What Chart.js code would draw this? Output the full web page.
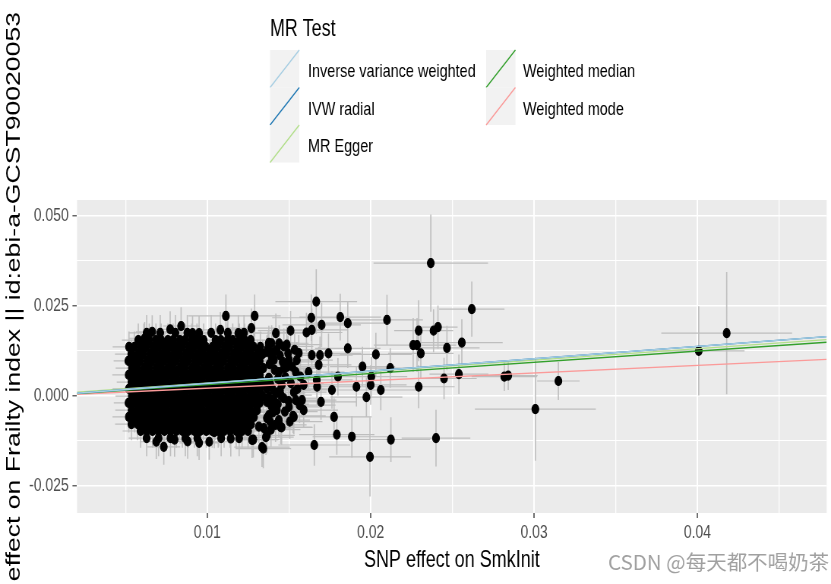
<!DOCTYPE html>
<html>
<head>
<meta charset="utf-8">
<script src="https://cdn.jsdelivr.net/npm/chart.js@4.4.1/dist/chart.umd.min.js"></script>
<style>
  html, body { margin: 0; padding: 0; background: #fff; overflow: hidden; }
  /* the original picture is squeezed sideways, so draw wide and squeeze it back */
  #wrap { width: 1094px; height: 584px; transform: scaleX(0.7596); transform-origin: 0 0; }
</style>
</head>
<body>
<div id="wrap"><canvas id="mrScatter" width="1094" height="584"></canvas></div>
<script>
// ---- axis ticks ----
const xTickValues = [0.005, 0.01, 0.015, 0.02, 0.025, 0.03, 0.035, 0.04, 0.045];
const xTickLabels = ['', '0.01', '', '0.02', '', '0.03', '', '0.04', ''];
const yTickValues = [-0.025, -0.0125, 0, 0.0125, 0.025, 0.0375, 0.05];
const yTickLabels = ['-0.025', '', '0.000', '', '0.025', '', '0.050'];
const xRange = [0.00203, 0.04791];
const yRange = [-0.03262, 0.05446];

// ---- MR method lines (y at the left and right panel edges) ----
const methodNames = ['Inverse variance weighted', 'IVW radial', 'MR Egger', 'Weighted median', 'Weighted mode'];
const methodColors = ['#A6CEE3', '#1F78B4', '#B2DF8A', '#33A02C', '#FB9A99'];
const lineX = [0.00203, 0.04791];
const ivwLineY = [0.0007, 0.01644];
const ivwRadialLineY = [0.0007, 0.01644];
const eggerLineY = [0.0010, 0.01561];
const medianLineY = [0.0006, 0.01489];
const modeLineY = [0.0004, 0.01012];

// ---- dense block of SNPs, read row by row ----
const blobRowY = [0.0175, 0.0155, 0.0136, 0.0116, 0.0097, 0.0077, 0.0058, 0.0038, 0.0019, -0.0001, -0.002, -0.004, -0.0059, -0.0079, -0.0098, -0.0118];
const blobRowX = [
  [0.00629, 0.00712, 0.00805, 0.00878, 0.01024, 0.01126, 0.01225],
  [0.00578, 0.00612, 0.00645, 0.00686, 0.00718, 0.00759, 0.00791, 0.00833, 0.00864, 0.00905, 0.00937, 0.00978, 0.01051, 0.01083, 0.01124, 0.01156, 0.01197, 0.01229, 0.01266],
  [0.00521, 0.00554, 0.00594, 0.00627, 0.00667, 0.007, 0.0074, 0.00773, 0.00813, 0.00846, 0.00886, 0.00919, 0.00959, 0.00992, 0.01032, 0.01065, 0.01105, 0.01138, 0.01179, 0.01211, 0.01252, 0.01284, 0.01325],
  [0.00535, 0.00576, 0.00608, 0.00649, 0.00682, 0.00722, 0.00755, 0.00795, 0.00828, 0.00868, 0.00901, 0.00941, 0.00974, 0.01014, 0.01047, 0.01087, 0.0112, 0.0116, 0.01193, 0.01233, 0.01266, 0.01307, 0.01339],
  [0.00517, 0.00558, 0.0059, 0.00631, 0.00663, 0.00704, 0.00736, 0.00777, 0.00809, 0.0085, 0.00882, 0.00923, 0.00955, 0.00996, 0.01028, 0.01069, 0.01101, 0.01142, 0.01175, 0.01215, 0.01248, 0.01288, 0.01321],
  [0.00539, 0.00572, 0.00612, 0.00645, 0.00686, 0.00718, 0.00759, 0.00791, 0.00832, 0.00864, 0.00905, 0.00937, 0.00978, 0.0101, 0.01051, 0.01083, 0.01124, 0.01156, 0.01197, 0.01229, 0.0127, 0.01303, 0.01343],
  [0.00519, 0.00557, 0.00591, 0.0063, 0.00664, 0.00703, 0.00737, 0.00776, 0.0081, 0.00849, 0.00883, 0.00922, 0.00956, 0.00995, 0.01029, 0.01068, 0.01102, 0.01141, 0.01176, 0.01214, 0.01249, 0.01287, 0.01322],
  [0.00536, 0.00575, 0.00609, 0.00648, 0.00683, 0.00721, 0.00756, 0.00794, 0.00829, 0.00867, 0.00902, 0.0094, 0.00975, 0.01013, 0.01048, 0.01086, 0.01121, 0.01159, 0.01194, 0.01232, 0.01267, 0.01306, 0.0134],
  [0.0052, 0.00555, 0.00593, 0.00628, 0.00666, 0.00701, 0.00739, 0.00774, 0.00812, 0.00847, 0.00885, 0.0092, 0.00958, 0.00993, 0.01031, 0.01066, 0.01104, 0.01139, 0.01178, 0.01212, 0.01251, 0.01285, 0.01324],
  [0.00538, 0.00573, 0.00611, 0.00646, 0.00685, 0.00719, 0.00758, 0.00792, 0.00831, 0.00865, 0.00904, 0.00938, 0.00977, 0.01011, 0.0105, 0.01084, 0.01123, 0.01157, 0.01196, 0.0123, 0.01269, 0.01304, 0.01342],
  [0.00518, 0.00557, 0.00592, 0.0063, 0.00665, 0.00703, 0.00738, 0.00776, 0.00811, 0.00849, 0.00884, 0.00922, 0.00957, 0.00995, 0.0103, 0.01068, 0.01103, 0.01141, 0.01176, 0.01214, 0.01249, 0.01287, 0.01321],
  [0.00537, 0.00575, 0.0061, 0.00648, 0.00683, 0.00721, 0.00756, 0.00794, 0.00829, 0.00867, 0.00902, 0.0094, 0.00975, 0.01013, 0.01048, 0.01086, 0.01121, 0.01159, 0.01194, 0.01232, 0.01267, 0.01305],
  [0.0052, 0.00556, 0.00593, 0.00629, 0.00666, 0.00702, 0.00739, 0.00775, 0.00812, 0.00848, 0.00885, 0.00921, 0.00958, 0.00994, 0.01031, 0.01067, 0.01104, 0.0114, 0.01177, 0.01213, 0.0125, 0.01286],
  [0.00536, 0.00574, 0.00609, 0.00647, 0.00684, 0.0072, 0.00757, 0.00793, 0.0083, 0.00866, 0.00903, 0.00939, 0.00976, 0.01012, 0.01049, 0.01085, 0.01122, 0.01158, 0.01195, 0.01231, 0.01268],
  [0.00592, 0.00629, 0.00665, 0.00702, 0.00738, 0.00775, 0.00811, 0.00848, 0.00884, 0.00921, 0.00957, 0.00994, 0.0103, 0.01067, 0.01103, 0.0114, 0.01177, 0.01213, 0.0125],
  [0.00629, 0.00702, 0.00775, 0.00866, 0.00939, 0.01085, 0.01195]
];
const blobRowSeX = [0.0011, 0.001, 0.001, 0.001, 0.0009, 0.001, 0.001, 0.0009, 0.001, 0.001, 0.0009, 0.001, 0.001, 0.001, 0.0011, 0.0011];
const blobRowSeY = [0.005, 0.0046, 0.0043, 0.004, 0.004, 0.0042, 0.004, 0.004, 0.0041, 0.004, 0.004, 0.0042, 0.0043, 0.0045, 0.0047, 0.005];

// ---- ragged right edge of the block ----
const edgeX = [
  0.01372, 0.01395, 0.01381, 0.01412, 0.01385, 0.014, 0.01378, 0.01392, 0.01402, 0.01385, 0.0139,
  0.01425, 0.01445, 0.01462, 0.01432, 0.01478, 0.01445, 0.01468, 0.01432, 0.01475, 0.01438, 0.01418,
  0.01495, 0.01512, 0.01498, 0.01505, 0.01548, 0.01552, 0.01565, 0.01535
];
const edgeY = [
  0.0131, 0.0108, 0.0088, 0.0072, 0.0034, 0.0018, -0.0003, -0.0028, -0.0046, -0.0072, -0.0094,
  0.0127, 0.0112, 0.0094, 0.0047, 0.0052, 0.0015, -0.0007, -0.0023, -0.0044, -0.0068, -0.0081,
  0.0118, 0.0035, -0.0015, -0.0072, 0.0099, 0.0019, -0.0026, 0.0128
];
const edgeSeX = [
  0.0018, 0.0019, 0.0018, 0.0019, 0.0018, 0.0019, 0.0018, 0.0019, 0.0018, 0.0019, 0.0018,
  0.002, 0.0019, 0.002, 0.0019, 0.002, 0.0019, 0.002, 0.0019, 0.002, 0.0019, 0.0019,
  0.0021, 0.002, 0.0021, 0.002, 0.0022, 0.0021, 0.0022, 0.0021
];
const edgeSeY = [
  0.0048, 0.0046, 0.0047, 0.0046, 0.0047, 0.0046, 0.0047, 0.0046, 0.0047, 0.0046, 0.0048,
  0.0048, 0.0047, 0.0048, 0.0047, 0.0048, 0.0047, 0.0048, 0.0047, 0.0048, 0.0047, 0.0048,
  0.0049, 0.0048, 0.0049, 0.0048, 0.005, 0.0049, 0.005, 0.0049
];

// ---- scattered SNPs around and beyond the block ----
const sparseX = [
  0.00617, 0.00663, 0.00773, 0.0084, 0.0091, 0.0095, 0.0108, 0.01114, 0.0119, 0.0127, 0.0129, 0.0142, 0.0151, 0.01394, 0.0144, 0.01404, 0.01469,
  0.01607, 0.0164, 0.01637, 0.01667, 0.017, 0.01814, 0.0186, 0.021, 0.0186, 0.02032, 0.0195, 0.0212, 0.01742, 0.0169, 0.0164, 0.01682,
  0.015, 0.01542, 0.01487, 0.0156, 0.0152, 0.01469, 0.0157, 0.0162, 0.0142, 0.01456, 0.0159, 0.0167, 0.01672, 0.01763, 0.018,
  0.01408, 0.01542, 0.0158, 0.015, 0.0159, 0.01377, 0.01525, 0.0153, 0.01696, 0.01776, 0.0145, 0.01455, 0.01316, 0.0118, 0.0107, 0.01043,
  0.01377, 0.01365, 0.01408, 0.01438, 0.01377, 0.01365, 0.0145, 0.01365, 0.01426, 0.01365, 0.01347, 0.01487, 0.0153,
  0.00688, 0.00734, 0.008, 0.0088, 0.0095, 0.01012, 0.01144, 0.01274, 0.01282, 0.01335, 0.01343, 0.01365, 0.01359,
  0.01655, 0.01793, 0.01885, 0.01996, 0.02124, 0.01974, 0.01913, 0.02, 0.02004, 0.02062,
  0.02294, 0.02385, 0.02412, 0.0226, 0.02284, 0.02307, 0.02467, 0.02558, 0.02294, 0.02449, 0.0254, 0.02818, 0.02842,
  0.02368, 0.02619, 0.03008, 0.03149, 0.024, 0.04008, 0.04179
];
const sparseY = [
  0.016, 0.0178, 0.0185, 0.0194, 0.0174, 0.0174, 0.0183, 0.0222, 0.0174, 0.0188, 0.0222, 0.0174, 0.0181, 0.0146, 0.0146, 0.012, 0.0137,
  0.0176, 0.0183, 0.0217, 0.0262, 0.0197, 0.0219, 0.0202, 0.0211, 0.0132, 0.0115, 0.0081, 0.0077, 0.0118, 0.0113, 0.0113, 0.0086,
  0.01, 0.0066, 0.008, 0.0119, 0.0081, 0.0076, 0.0053, 0.0066, 0.0008, 0.003, 0.003, 0.0044, 0.0025, 0.0016, 0.0053,
  -0.0012, -0.0012, -0.0012, -0.0031, -0.004, -0.0054, -0.0056, -0.0059, -0.0017, -0.0059, -0.0087, -0.0088, -0.0086, -0.0077, -0.0096, -0.0101,
  0.0147, 0.0122, 0.01, 0.0066, 0.005, 0.0021, 0.0002, -0.0017, -0.004, -0.0062, -0.009, 0.0142, 0.001,
  -0.0128, -0.0142, -0.0122, -0.0127, -0.0131, -0.0128, -0.0119, -0.0123, -0.0122, -0.0143, -0.0147, -0.011, -0.0115,
  -0.0137, -0.0108, -0.0114, -0.017, -0.0122, -0.0004, 0.0025, 0.003, 0.0053, 0.0016,
  0.0181, 0.0181, 0.0191, 0.0141, 0.0141, 0.0118, 0.0133, 0.0148, 0.0025, 0.0048, 0.006, 0.0053, 0.0056,
  0.0369, 0.0241, -0.0037, 0.0041, -0.0118, 0.0125, 0.0174
];
const sparseSeX = [
  0.001, 0.001, 0.0011, 0.0011, 0.0012, 0.0012, 0.0014, 0.0023, 0.0013, 0.0015, 0.0016, 0.0018, 0.002, 0.0017, 0.0018, 0.0017, 0.0018,
  0.0022, 0.0022, 0.0024, 0.0025, 0.0024, 0.0025, 0.0025, 0.0022, 0.002, 0.0022, 0.002, 0.0018, 0.002, 0.002, 0.002, 0.002,
  0.002, 0.0021, 0.002, 0.0021, 0.0021, 0.002, 0.0021, 0.0022, 0.0018, 0.0019, 0.0021, 0.0022, 0.0022, 0.0023, 0.0023,
  0.0018, 0.002, 0.0021, 0.002, 0.0021, 0.0018, 0.002, 0.002, 0.0022, 0.0023, 0.0019, 0.0019, 0.0017, 0.0015, 0.0014, 0.0014,
  0.0018, 0.0017, 0.0019, 0.002, 0.0018, 0.0017, 0.0019, 0.0017, 0.0019, 0.0017, 0.0017, 0.0021, 0.002,
  0.001, 0.001, 0.0011, 0.0011, 0.0012, 0.0013, 0.0014, 0.0016, 0.0016, 0.0017, 0.0017, 0.0017, 0.0017,
  0.0022, 0.0023, 0.0024, 0.0025, 0.0024, 0.0022, 0.0022, 0.0022, 0.0022, 0.0023,
  0.0015, 0.0012, 0.0012, 0.0024, 0.0024, 0.002, 0.002, 0.0025, 0.0022, 0.002, 0.0018, 0.002, 0.0018,
  0.0035, 0.002, 0.0037, 0.0013, 0.0021, 0.0028, 0.004
];
const sparseSeY = [
  0.0045, 0.0046, 0.005, 0.0052, 0.0048, 0.0048, 0.005, 0.006, 0.005, 0.0055, 0.006, 0.0055, 0.0055, 0.005, 0.005, 0.005, 0.005,
  0.0055, 0.006, 0.0065, 0.009, 0.0062, 0.0065, 0.006, 0.007, 0.0055, 0.006, 0.0055, 0.0055, 0.0055, 0.0052, 0.0052, 0.005,
  0.0048, 0.0048, 0.0048, 0.005, 0.0048, 0.0048, 0.0048, 0.005, 0.0045, 0.0045, 0.0048, 0.005, 0.005, 0.0052, 0.0052,
  0.0045, 0.0048, 0.0048, 0.0048, 0.0048, 0.0045, 0.0048, 0.0048, 0.005, 0.0052, 0.0048, 0.0048, 0.0046, 0.0045, 0.0045, 0.0045,
  0.0048, 0.0046, 0.0047, 0.0048, 0.0046, 0.0045, 0.0047, 0.0045, 0.0047, 0.0046, 0.0047, 0.005, 0.0048,
  0.0048, 0.005, 0.0048, 0.0048, 0.0048, 0.005, 0.005, 0.005, 0.005, 0.0055, 0.0055, 0.005, 0.005,
  0.0058, 0.0056, 0.0058, 0.011, 0.0062, 0.0055, 0.0055, 0.0055, 0.0055, 0.0056,
  0.0085, 0.006, 0.006, 0.0075, 0.0075, 0.007, 0.0062, 0.0065, 0.006, 0.0058, 0.0055, 0.004, 0.004,
  0.0135, 0.0077, 0.0144, 0.0053, 0.0079, 0.0124, 0.017
];

// ---- texts ----
const xTitle = 'SNP effect on SmkInit';
const yTitle = 'SNP effect on Frailty index || id:ebi-a-GCST90020053';
const legendTitle = 'MR Test';
const watermark = 'CSDN @每天都不喝奶茶';

const S = 831 / 1094;   // sideways squeeze applied by CSS
const FONT = "'Liberation Sans', Arial, Helvetica, sans-serif";

// build the SNP points
const snpPoints = [];
blobRowY.forEach((y, r) => {
  blobRowX[r].forEach(x => snpPoints.push({ x: x, y: y, sx: blobRowSeX[r], sy: blobRowSeY[r] }));
});
edgeX.forEach((x, i) => {
  snpPoints.push({ x: x, y: edgeY[i], sx: edgeSeX[i], sy: edgeSeY[i] });
});
sparseX.forEach((x, i) => {
  snpPoints.push({ x: x, y: sparseY[i], sx: sparseSeX[i], sy: sparseSeY[i] });
});

const lineSets = [ivwLineY, ivwRadialLineY, eggerLineY, medianLineY, modeLineY];
const lineDatasets = lineSets.map((ys, i) => ({
  label: methodNames[i],
  data: lineX.map((x, j) => ({ x: x, y: ys[j] })),
  showLine: true,
  borderColor: methodColors[i],
  borderWidth: 1.4,
  pointRadius: 0,
  order: 0
}));

// grey panel behind the grid
const panelBackground = {
  id: 'panelBackground',
  beforeDraw(chart) {
    const a = chart.chartArea, ctx = chart.ctx;
    ctx.save();
    ctx.fillStyle = '#EBEBEB';
    ctx.fillRect(a.left, a.top, a.right - a.left, a.bottom - a.top);
    ctx.restore();
  }
};

// vertical and horizontal standard-error bars, drawn under the points
const errorBars = {
  id: 'errorBars',
  beforeDatasetsDraw(chart) {
    const ctx = chart.ctx, a = chart.chartArea;
    const xs = chart.scales.x, ys = chart.scales.y;
    ctx.save();
    ctx.beginPath();
    ctx.rect(a.left, a.top, a.right - a.left, a.bottom - a.top);
    ctx.clip();
    ctx.strokeStyle = '#BEBEBE';
    ctx.lineWidth = 1.6;
    ctx.beginPath();
    snpPoints.forEach(p => {
      const px = xs.getPixelForValue(p.x);
      ctx.moveTo(px, ys.getPixelForValue(p.y - p.sy));
      ctx.lineTo(px, ys.getPixelForValue(p.y + p.sy));
    });
    ctx.stroke();
    ctx.lineWidth = 1.2;
    ctx.beginPath();
    snpPoints.forEach(p => {
      const py = ys.getPixelForValue(p.y);
      ctx.moveTo(xs.getPixelForValue(p.x - p.sx), py);
      ctx.lineTo(xs.getPixelForValue(p.x + p.sx), py);
    });
    ctx.stroke();
    ctx.restore();
  }
};

// axis titles, legend and watermark
const textLayer = {
  id: 'textLayer',
  afterDraw(chart) {
    const ctx = chart.ctx, a = chart.chartArea;
    ctx.save();
    ctx.fillStyle = '#000';
    ctx.textBaseline = 'alphabetic';

    // x title
    ctx.font = '23.7px ' + FONT;
    ctx.textAlign = 'center';
    ctx.fillText(xTitle, (a.left + a.right) / 2, 567);

    // y title (runs off the bottom edge like the original)
    ctx.save();
    ctx.translate(26.3, 12);
    ctx.rotate(-Math.PI / 2);
    ctx.font = '26.6px ' + FONT;
    ctx.textAlign = 'right';
    ctx.fillText(yTitle, 0, 0);
    ctx.restore();

    // legend
    ctx.textAlign = 'left';
    ctx.font = '23.5px ' + FONT;
    ctx.fillText(legendTitle, 355.5, 36);
    const keyW = 38.5, keyH = 37.5;
    const colX = [355.5, 640];
    const labelX = [405.5, 688.5];
    ctx.font = '19px ' + FONT;
    methodNames.forEach((name, i) => {
      const col = i < 3 ? 0 : 1;
      const row = i < 3 ? i : i - 3;
      const kx = colX[col], ky = 50 + row * keyH;
      ctx.fillStyle = '#F2F2F2';
      ctx.fillRect(kx, ky, keyW, keyH);
      ctx.strokeStyle = methodColors[i];
      ctx.lineWidth = 1.4;
      ctx.beginPath();
      ctx.moveTo(kx, ky + keyH);
      ctx.lineTo(kx + keyW, ky);
      ctx.stroke();
      ctx.fillStyle = '#000';
      ctx.fillText(name, labelX[col], ky + 27.3);
    });

    // watermark (not squeezed in the original)
    ctx.save();
    ctx.translate(608 / S, 570);
    ctx.scale(1 / S, 1);
    ctx.font = "20.5px 'Noto Sans CJK SC', 'Noto Sans', sans-serif";
    ctx.fillStyle = 'rgba(128,128,128,0.75)';
    ctx.fillText(watermark, 0, 0);
    ctx.restore();

    ctx.restore();
  }
};

const canvas = document.getElementById('mrScatter');
new Chart(canvas, {
  type: 'scatter',
  data: {
    datasets: lineDatasets.concat([{
      label: 'SNPs',
      data: snpPoints,
      backgroundColor: '#000',
      borderColor: '#000',
      pointRadius: 4.5,
      pointBorderWidth: 1.2,
      order: 1
    }])
  },
  options: {
    responsive: false,
    animation: false,
    devicePixelRatio: 1,
    events: [],
    layout: { padding: { top: 200, left: 0, right: 0, bottom: 0 } },
    plugins: { legend: { display: false }, tooltip: { enabled: false } },
    scales: {
      x: {
        type: 'linear',
        min: xRange[0],
        max: xRange[1],
        afterBuildTicks: scale => { scale.ticks = xTickValues.map(v => ({ value: v })); },
        afterFit: scale => { scale.height = 71; },
        border: { display: false },
        grid: {
          color: '#FFFFFF',
          lineWidth: c => (xTickLabels[c.index] ? 2.0 : 1.3),
          tickLength: 5,
          tickWidth: 1.4,
          tickColor: c => (xTickLabels[c.index] ? '#333333' : 'rgba(0,0,0,0)')
        },
        ticks: {
          autoSkip: false,
          maxRotation: 0,
          padding: 4,
          color: '#4D4D4D',
          font: { family: FONT, size: 18.4 },
          callback: (v, i) => xTickLabels[i]
        }
      },
      y: {
        type: 'linear',
        min: yRange[0],
        max: yRange[1],
        afterBuildTicks: scale => { scale.ticks = yTickValues.map(v => ({ value: v })); },
        afterFit: scale => { scale.width = 101.4; },
        border: { display: false },
        grid: {
          color: '#FFFFFF',
          lineWidth: c => (yTickLabels[c.index] ? 1.6 : 1.0),
          tickLength: 6,
          tickWidth: 1.1,
          tickColor: c => (yTickLabels[c.index] ? '#333333' : 'rgba(0,0,0,0)')
        },
        ticks: {
          autoSkip: false,
          padding: 5,
          color: '#4D4D4D',
          font: { family: FONT, size: 18.4 },
          callback: (v, i) => yTickLabels[i]
        }
      }
    }
  },
  plugins: [panelBackground, errorBars, textLayer]
});
</script>
</body>
</html>
